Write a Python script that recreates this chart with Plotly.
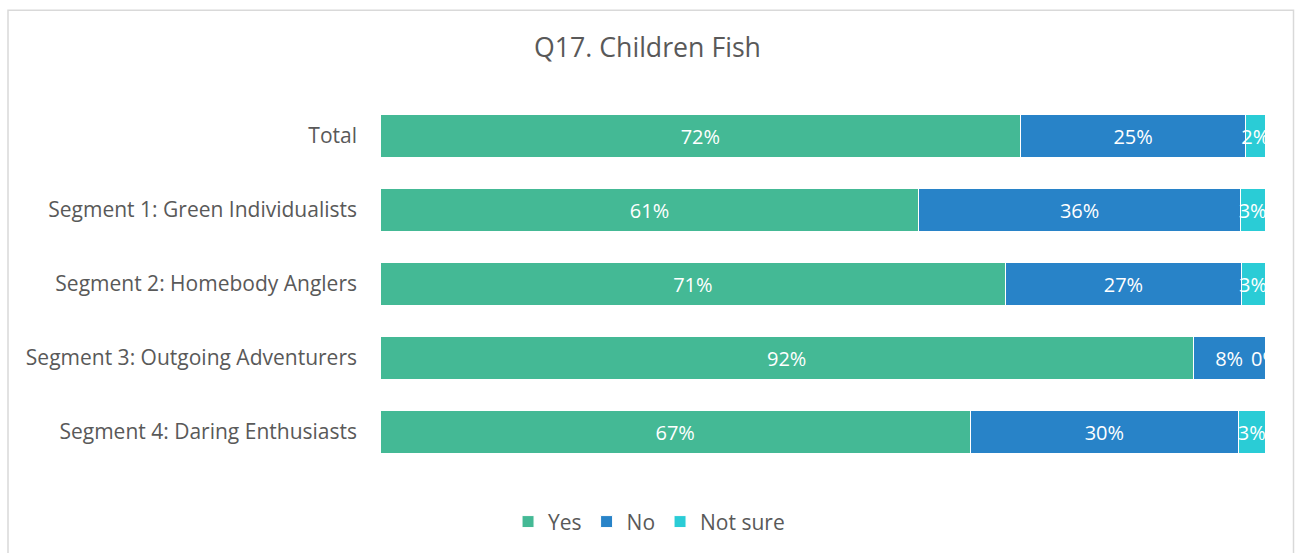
import plotly.graph_objects as go

categories = ["Total", "Segment 1: Green Individualists", "Segment 2: Homebody Anglers",
              "Segment 3: Outgoing Adventurers", "Segment 4: Daring Enthusiasts"]
yes_vals = [72.4, 60.9, 70.7, 91.9, 66.7]
no_vals = [25.4, 36.3, 26.6, 8.1, 30.3]
notsure_vals = [2.2, 2.8, 2.7, 0.0, 3.0]
series_names = ["Yes", "No", "Not sure"]
colors = ["#44B995", "#2883C8", "#2ACCD6"]

FONT = "Open Sans"
FS = 21
LS = 20
fig = go.Figure()
for name, vals, col in zip(series_names, [yes_vals, no_vals, notsure_vals], colors):
    labelled = name != "Not sure"
    fig.add_trace(go.Bar(
        y=categories, x=vals, name=name, orientation="h",
        marker=dict(color=col, line=dict(color="white", width=1)),
        texttemplate="%{x:.0f}%" if labelled else None,
        textposition="inside" if labelled else "none",
        insidetextanchor="middle", textangle=0,
        textfont=dict(color="white", size=LS, family=FONT),
        cliponaxis=True, constraintext="none", hoverinfo="x+name",
    ))

# labels for the last segment (also drawn when the segment is zero width)
ns_centers = [y + n + s / 2 for y, n, s in zip(yes_vals, no_vals, notsure_vals)]
fig.add_trace(go.Scatter(
    y=categories, x=ns_centers, mode="text", yaxis="y2",
    text=[f"{round(s):.0f}%" for s in notsure_vals],
    textposition="middle center", textfont=dict(color="white", size=LS, family=FONT),
    showlegend=False, cliponaxis=True, hoverinfo="skip",
))

n = len(categories)
fig.update_layout(
    barmode="stack", bargap=0.43,
    width=1295, height=553,
    margin=dict(l=380, r=30, t=99, b=83),
    paper_bgcolor="white", plot_bgcolor="white",
    font=dict(family=FONT, color="#595959", size=FS),
    title=dict(text="Q17. Children Fish", x=0.5, xref="container", y=1 - 48 / 553,
               yref="container", xanchor="center", yanchor="middle",
               font=dict(size=26.7, color="#595959", family=FONT)),
    uniformtext=dict(minsize=LS, mode="show"),
    legend=dict(orientation="h", x=0.304, xanchor="center", y=-0.14, yanchor="middle",
                font=dict(size=FS, color="#595959", family=FONT), traceorder="normal",
                itemwidth=30),
    showlegend=True,
    yaxis2=dict(overlaying="y", visible=False, categoryorder="array",
                categoryarray=categories, range=[n - 0.5 - 0.04, -0.5 - 0.04]),
)
fig.update_xaxes(range=[0, 100], visible=False, showgrid=False, zeroline=False)
fig.update_yaxes(selector=dict(anchor="x"), autorange="reversed", showgrid=False, zeroline=False, ticks="",
                 ticklabelstandoff=22, tickfont=dict(size=FS, color="#595959", family=FONT))
fig.layout.yaxis.update(autorange="reversed", showgrid=False, zeroline=False, ticks="",
                        ticklabelstandoff=22, tickfont=dict(size=FS, color="#595959", family=FONT))

fig.add_shape(type="rect", xref="paper", yref="paper",
              x0=(8 - 380) / 885, x1=(1293.5 - 380) / 885,
              y0=(470 - 560) / 371, y1=(470 - 10) / 371,
              line=dict(color="#D9D9D9", width=1.5), fillcolor="rgba(0,0,0,0)", layer="below")

fig.write_html("out.html")
